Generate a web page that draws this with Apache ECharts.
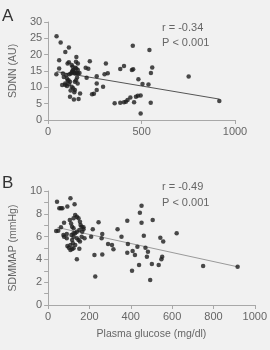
<!DOCTYPE html>
<html><head><meta charset="utf-8">
<script src="https://cdn.jsdelivr.net/npm/echarts@6/dist/echarts.min.js"></script>
<style>html,body{margin:0;padding:0;background:#f1f1f1}#c{width:270px;height:350px}</style>
</head><body><div id="c"></div>
<script>
// Panel A: plasma glucose (mg/dl) vs SDNN (AU)
const glucoseA = [45,67,111,92,59,111,104,44,59,79,84,75,92,101,109,117,117,126,134,143,138,163,171,151,149,159,126,131,134,138,128,143,151,159,168,151,159,158,149,143,122,114,97,91,101,111,201,215,223,206,260,260,260,235,245,294,309,302,319,356,386,406,416,425,440,386,406,448,455,453,470,460,480,495,483,495,505,537,542,550,557,549,752,916,120,130,145,155,105,140];
const sdnnA    = [25.6,23.7,22.2,20.8,18.3,17.7,17.3,14.0,15.8,14.2,13.2,10.7,10.7,12.7,12.2,11.7,7.1,10.2,9.7,9.2,6.3,6.4,8.1,19.3,17.8,17.3,16.8,16.3,15.3,14.7,14.7,14.2,14.4,14.2,14.4,15.8,15.3,11.2,12.2,11.7,14.2,14.0,13.7,11.2,10.4,11.0,16.0,15.7,18.0,12.9,13.4,11.2,9.2,7.9,8.0,10.2,17.3,14.0,14.3,5.1,5.3,5.4,5.6,6.1,6.9,15.6,16.5,15.3,15.5,22.7,7.1,5.4,7.4,7.5,12.5,2.0,11.0,10.9,21.4,14.4,16.1,5.3,13.3,5.8,9.0,15.0,16.0,13.0,12.0,8.5];
const fitA_x = [45, 916];
const fitA_y = [14.8, 6.4];

// Panel B: plasma glucose (mg/dl) vs SDMMAP (mmHg)
const glucoseB = [43,54,62,69,93,108,128,39,49,62,77,74,90,93,100,108,116,123,105,111,116,123,123,131,139,147,154,157,151,139,131,123,116,113,139,147,154,162,165,171,162,151,139,131,120,108,77,90,123,171,176,208,216,224,244,262,259,262,228,290,309,316,336,355,383,386,383,409,420,406,432,440,444,452,452,463,471,478,483,506,502,494,535,543,552,548,557,622,750,917];
const sdmmapB  = [9.06,8.48,8.48,8.48,8.63,9.36,8.83,6.49,6.52,6.81,7.22,6.14,5.85,5.18,5.03,4.82,4.91,4.97,7.46,7.16,6.87,7.60,6.73,7.89,7.75,7.60,7.31,7.02,6.58,6.43,6.29,5.99,5.70,6.14,5.85,5.70,5.56,5.99,6.43,6.81,6.87,4.94,4.01,5.26,5.41,5.26,5.99,6.23,6.29,6.64,5.85,5.99,6.64,4.39,7.25,6.23,5.85,4.44,2.49,5.35,5.26,4.88,6.64,5.99,7.40,5.35,4.59,4.74,4.39,3.01,5.12,3.51,8.10,8.71,7.22,6.08,5.03,4.24,4.68,7.46,3.60,2.19,3.51,5.91,4.24,4.01,5.56,6.29,3.42,3.36];
const fitB_x = [45, 917];
const fitB_y = [6.8, 3.35];

const xTicksA = [0, 500, 1000];
const yTicksA = [0, 30, 5];
const xTicksB = [0, 1000, 200];
const yTicksB = [0, 10, 2];

const pairs = (xs, ys) => xs.map((x, i) => [x, ys[i]]);
const FONT = 'Liberation Sans';
const axisCol = '#a8a8a8';
const txtCol = '#666';
const plain = v => String(v);

function xAxis(idx, min, max, interval, name) {
  return {
    gridIndex: idx, type: 'value', min, max, interval,
    name: name || '', nameLocation: 'middle', nameGap: 24,
    nameTextStyle: { color: txtCol, fontSize: 10.5, fontFamily: FONT },
    axisLine: { lineStyle: { color: axisCol } },
    axisTick: { lineStyle: { color: axisCol }, length: 4 },
    axisLabel: { color: txtCol, fontSize: 11, fontFamily: FONT, margin: 6, formatter: plain },
    splitLine: { show: false }
  };
}
function yAxis(idx, min, max, interval, name, minor) {
  return {
    gridIndex: idx, type: 'value', min, max, interval,
    name, nameLocation: 'middle', nameGap: 23, nameRotate: 90,
    nameTextStyle: { color: txtCol, fontSize: 10.5, fontFamily: FONT },
    axisLine: { show: true, lineStyle: { color: axisCol } },
    axisTick: { show: true, lineStyle: { color: axisCol }, length: 4 },
    minorTick: { show: !!minor, splitNumber: 2, length: 4, lineStyle: { color: axisCol } },
    axisLabel: { color: txtCol, fontSize: 11, fontFamily: FONT, margin: 6, formatter: plain },
    splitLine: { show: false }
  };
}

const chart = echarts.init(document.getElementById('c'));
chart.setOption({
  backgroundColor: '#f1f1f1',
  animation: false,
  grid: [
    { left: 37, right: 35, top: 22, height: 98 },
    { left: 40, right: 14, top: 191, height: 114 }
  ],
  xAxis: [
    xAxis(0, xTicksA[0], xTicksA[2], xTicksA[1]),
    xAxis(1, xTicksB[0], xTicksB[1], xTicksB[2], 'Plasma glucose (mg/dl)')
  ],
  yAxis: [
    yAxis(0, yTicksA[0], yTicksA[1], yTicksA[2], 'SDNN (AU)', false),
    yAxis(1, yTicksB[0], yTicksB[1], yTicksB[2], 'SDMMAP (mmHg)', true)
  ],
  series: [
    { type: 'line', xAxisIndex: 0, yAxisIndex: 0, data: pairs(fitA_x, fitA_y), symbol: 'none', lineStyle: { color: '#555', width: 1 }, z: 1 },
    { type: 'scatter', xAxisIndex: 0, yAxisIndex: 0, data: pairs(glucoseA, sdnnA), symbol: 'circle', symbolSize: 4.5, itemStyle: { color: '#1e1e1e' }, z: 2 },
    { type: 'line', xAxisIndex: 1, yAxisIndex: 1, data: pairs(fitB_x, fitB_y), symbol: 'none', lineStyle: { color: '#9a9a9a', width: 1 }, z: 1 },
    { type: 'scatter', xAxisIndex: 1, yAxisIndex: 1, data: pairs(glucoseB, sdmmapB), symbol: 'circle', symbolSize: 4.5, itemStyle: { color: '#1e1e1e' }, z: 2 }
  ],
  graphic: [
    { type: 'text', left: 2, top: 8, style: { text: 'A', fontSize: 17, fontFamily: FONT, fill: '#333' } },
    { type: 'text', left: 2, top: 175, style: { text: 'B', fontSize: 17, fontFamily: FONT, fill: '#333' } },
    { type: 'text', left: 162, top: 22, style: { text: 'r = -0.34', fontSize: 11, fontFamily: FONT, fill: txtCol } },
    { type: 'text', left: 162, top: 37, style: { text: 'P < 0.001', fontSize: 11, fontFamily: FONT, fill: txtCol } },
    { type: 'text', left: 162, top: 181, style: { text: 'r = -0.49', fontSize: 11, fontFamily: FONT, fill: txtCol } },
    { type: 'text', left: 162, top: 197, style: { text: 'P < 0.001', fontSize: 11, fontFamily: FONT, fill: txtCol } }
  ]
});
</script></body></html>
